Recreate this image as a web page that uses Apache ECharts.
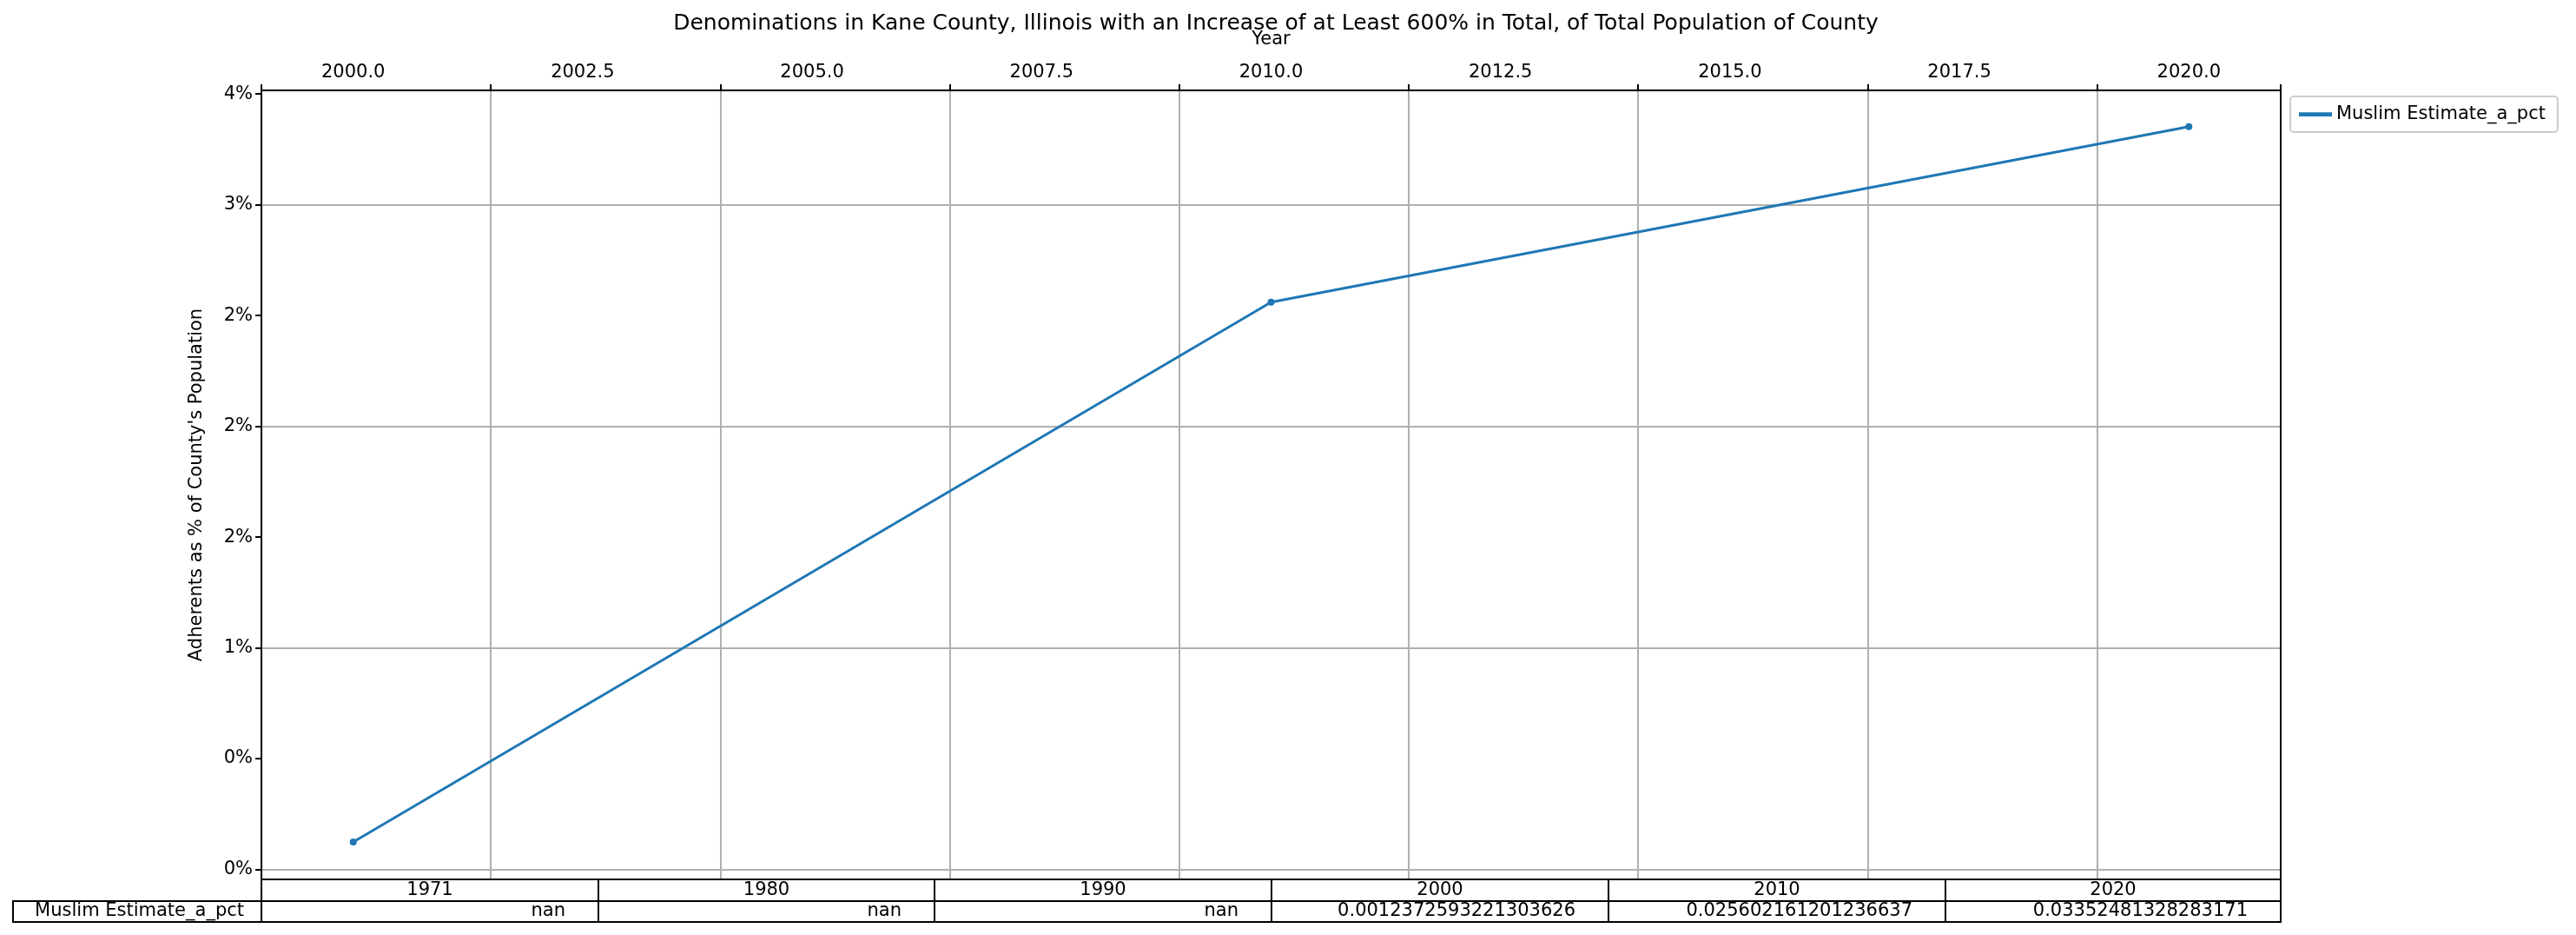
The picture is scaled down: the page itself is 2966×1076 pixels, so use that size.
<!DOCTYPE html>
<html>
<head>
<meta charset="utf-8">
<script src="https://cdn.jsdelivr.net/npm/echarts@6/dist/echarts.min.js"></script>
<style>html,body{margin:0;padding:0;background:#fff}#container{width:2966px;height:1076px}</style>
</head>
<body>
<div id="container"></div>
<script>
// plotted values
const years = [2000, 2010, 2020];
const muslimPct = [0.0012372593221303626, 0.025602161201236637, 0.03352481328283171];
// table contents
const tableYears = ['1971', '1980', '1990', '2000', '2010', '2020'];
const tableValues = ['nan', 'nan', 'nan', '0.0012372593221303626', '0.025602161201236637', '0.03352481328283171'];
const yTicks = [0, 0.005, 0.01, 0.015, 0.02, 0.025, 0.03, 0.035];
const yTickLabels = ['0%', '0%', '1%', '2%', '2%', '2%', '3%', '4%'];
const seriesName = 'Muslim Estimate_a_pct';

const font = 'DejaVu Sans';
const gridLeft = 301, gridRight = 2626, gridTop = 104, gridBottom = 1012;
const colX = [301, 689, 1076, 1464, 1852, 2240, 2626];
const rowY = [1012, 1037, 1061];

let graphics = [];
function cell(x1, y1, x2, y2) {
    graphics.push({
        type: 'rect', shape: { x: x1, y: y1, width: x2 - x1, height: y2 - y1 },
        style: { fill: 'none', stroke: '#000', lineWidth: 2 }, z: 10
    });
}
function label(text, x, y, align) {
    graphics.push({
        type: 'text', x: x, y: y,
        style: { text: text, font: '21px "' + font + '"', fill: '#000', textAlign: align, textVerticalAlign: 'middle' }, z: 11
    });
}
for (let i = 0; i < tableYears.length; i++) {
    cell(colX[i], rowY[0], colX[i + 1], rowY[1]);
    cell(colX[i], rowY[1], colX[i + 1], rowY[2]);
    label(tableYears[i], (colX[i] + colX[i + 1]) / 2, (rowY[0] + rowY[1]) / 2, 'center');
    label(tableValues[i], colX[i + 1] - 38, (rowY[1] + rowY[2]) / 2, 'right');
}
cell(15, rowY[1], colX[0], rowY[2]);
label(seriesName, colX[0] - 20, (rowY[1] + rowY[2]) / 2, 'right');

var dom = document.getElementById('container');
var myChart = echarts.init(dom, null, { renderer: 'canvas' });

var option = {
    animation: false,
    textStyle: { fontFamily: font },
    title: {
        text: 'Denominations in Kane County, Illinois with an Increase of at Least 600% in Total, of Total Population of County',
        left: 1464, top: 10, textAlign: 'center',
        textStyle: { fontSize: 25, fontWeight: 'normal', color: '#000', fontFamily: font }
    },
    legend: {
        left: 2637, top: 111, orient: 'vertical',
        padding: [10, 14, 10, 10],
        borderColor: '#ccc', borderWidth: 2, borderRadius: 4,
        itemWidth: 38, itemHeight: 14, itemGap: 10,
        textStyle: { fontSize: 21, color: '#000', fontFamily: font },
        data: [{ name: seriesName, icon: 'path://M0,6L16,6L16,8L0,8Z' }]
    },
    grid: { left: gridLeft, right: 2966 - gridRight, top: gridTop, bottom: 1076 - gridBottom, containLabel: false },
    xAxis: {
        type: 'value', position: 'top', min: 1999, max: 2021,
        name: 'Year', nameLocation: 'middle', nameGap: 48,
        nameTextStyle: { fontSize: 21, color: '#000' },
        axisLine: { show: true, onZero: false, lineStyle: { color: '#000', width: 2 } },
        axisTick: { show: true, length: 7, lineStyle: { color: '#000', width: 2 } },
        axisLabel: {
            fontSize: 21, color: '#000', margin: 10,
            customValues: [2000, 2002.5, 2005, 2007.5, 2010, 2012.5, 2015, 2017.5, 2020],
            formatter: v => v.toFixed(1)
        },
        splitLine: { show: true, lineStyle: { color: '#b0b0b0', width: 2 } },
        interval: 2.5
    },
    yAxis: {
        type: 'value', min: -0.00045, max: 0.03516,
        name: "Adherents as % of County's Population", nameLocation: 'middle', nameGap: 64,
        nameTextStyle: { fontSize: 21, color: '#000' },
        axisLine: { show: true, lineStyle: { color: '#000', width: 2 } },
        axisTick: { show: true, length: 7, customValues: yTicks, lineStyle: { color: '#000', width: 2 } },
        axisLabel: {
            fontSize: 21, color: '#000', margin: 10, customValues: yTicks,
            formatter: v => { const i = yTicks.findIndex(t => Math.abs(t - v) < 1e-9); return i >= 0 ? yTickLabels[i] : ''; }
        },
        splitLine: { show: false }
    },
    series: [{
        name: seriesName, type: 'line',
        data: years.map((y, i) => [y, muslimPct[i]]),
        symbol: 'circle', symbolSize: 8, showSymbol: true,
        lineStyle: { color: '#1f77b4', width: 3 },
        itemStyle: { color: '#1f77b4' },
        markLine: {
            silent: true, symbol: 'none', label: { show: false },
            lineStyle: { color: '#b0b0b0', width: 2, type: 'solid' },
            data: yTicks.map(t => ({ yAxis: t })), z: 1
        },
        z: 5
    }],
    graphic: graphics
};
// frame on right and bottom
graphics.push({ type: 'rect', shape: { x: gridLeft, y: gridTop, width: gridRight - gridLeft, height: gridBottom - gridTop },
    style: { fill: 'none', stroke: '#000', lineWidth: 2 }, z: 9 });

myChart.setOption(option);
window.addEventListener('resize', myChart.resize);
</script>
</body>
</html>
